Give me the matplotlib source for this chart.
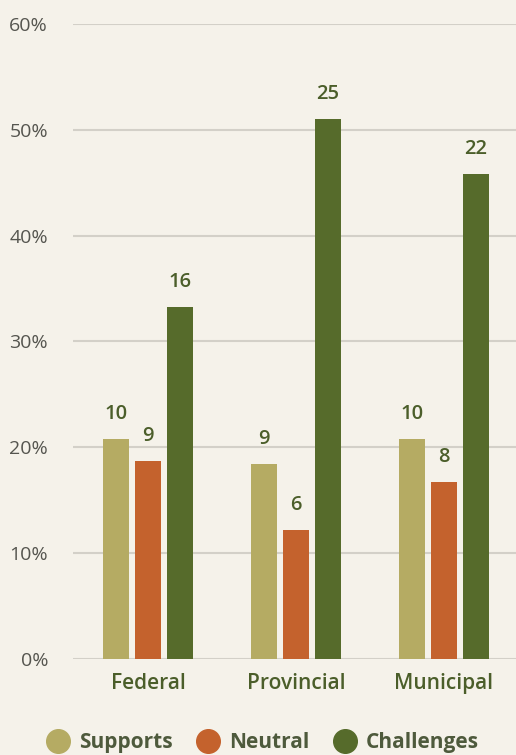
import numpy as np
import matplotlib
matplotlib.use('Agg')
import matplotlib.pyplot as plt
from matplotlib.lines import Line2D

# data
levels = ['Federal', 'Provincial', 'Municipal']
series = ['Supports', 'Neutral', 'Challenges']
supports_pct = [20.8, 18.4, 20.8]
neutral_pct = [18.75, 12.2, 16.7]
challenges_pct = [33.3, 51.0, 45.8]
supports_n = [10, 9, 10]
neutral_n = [9, 6, 8]
challenges_n = [16, 25, 22]
yticks = [0, 10, 20, 30, 40, 50, 60]

BG = '#f5f2ea'
COLORS = ['#b5ab63', '#c4622d', '#566b2b']
LABEL_C = '#4b5e2a'

plt.rcParams['font.family'] = ['Open Sans', 'DejaVu Sans']

fig = plt.figure(figsize=(5.16, 7.55), dpi=100, facecolor=BG)
ax = fig.add_axes([0.1415, 0.1272, 0.8585, 0.8410], facecolor=BG)

x = np.arange(len(levels))
width = 0.176
step = 0.217
pcts = [supports_pct, neutral_pct, challenges_pct]
counts = [supports_n, neutral_n, challenges_n]

for i, (p, n) in enumerate(zip(pcts, counts)):
    xs = x + (i - 1) * step
    ax.bar(xs, p, width, color=COLORS[i], zorder=3)
    for xx, yy, c in zip(xs, p, n):
        ax.text(xx, yy + 1.4, str(c), ha='center', va='bottom', fontsize=14.5,
                fontweight='semibold', color=LABEL_C)

ax.set_xlim(-0.51, 2.49)
ax.set_ylim(0, 60)
ax.set_yticks(yticks)
ax.set_yticklabels(['%d%%' % t for t in yticks], fontsize=14, color='#55554f')
ax.set_xticks(x)
ax.set_xticklabels(levels, fontsize=15, fontweight='semibold', color=LABEL_C)
ax.tick_params(axis='y', length=0, pad=18)
ax.tick_params(axis='x', length=0, pad=10)
ax.grid(axis='y', color='#d3d0c8', linewidth=1.5, zorder=0)
for s in ax.spines.values():
    s.set_visible(False)

handles = [Line2D([], [], marker='o', linestyle='none', markersize=17,
                  markerfacecolor=c, markeredgecolor=c) for c in COLORS]
leg = fig.legend(handles, series, loc='center', bbox_to_anchor=(0.5, 0.016),
                 ncol=3, frameon=False, handletextpad=0.0, columnspacing=0.7,
                 prop={'size': 15, 'weight': 'bold'})
for t in leg.get_texts():
    t.set_color('#4e5a3c')

plt.savefig('out.png', dpi=100, facecolor=BG)
plt.close()
